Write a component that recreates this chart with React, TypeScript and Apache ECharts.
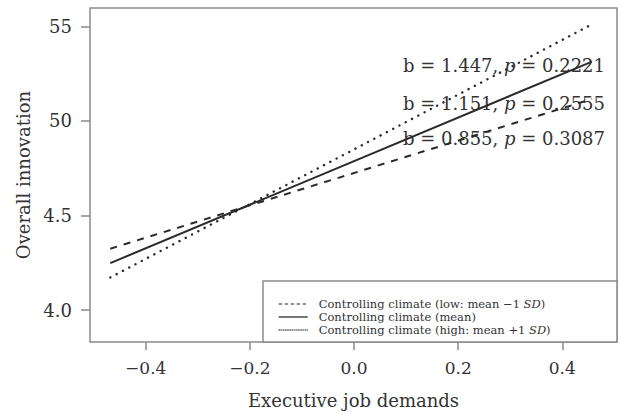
import React, { useEffect, useRef } from "react";
import * as echarts from "echarts";

const xRange = [-0.468, 0.457];
const lowValues = [4.325, 5.116];
const meanValues = [4.249, 5.314];
const highValues = [4.173, 5.511];
const seriesNames = [
  "Controlling climate (low: mean −1 SD)",
  "Controlling climate (mean)",
  "Controlling climate (high: mean +1 SD)",
];
const xTicks = [-0.4, -0.2, 0, 0.2, 0.4];
const yTicks = [4.0, 4.5, 5.0, 5.5];
const yTickLabels = ["4.0", "4.5", "50", "55"];
const slopeTexts = [
  ["b = 1.447, ", "p", " = 0.2221"],
  ["b = 1.151, ", "p", " = 0.2555"],
  ["b = 0.855, ", "p", " = 0.3087"],
];

const FONT = "'DejaVu Serif', 'Liberation Serif', serif";
const INK = "#333";
const FRAME = "#8a8a8a";

export default function App() {
  const ref = useRef<HTMLDivElement>(null);
  useEffect(() => {
    if (!ref.current) return;
    const chart = echarts.init(ref.current, null, { renderer: "svg" });
    const toPts = (vals: number[]) => xRange.map((x, i) => [x, vals[i]]);
    const lineCommon = { type: "line", symbol: "none", silent: true };
    const fmtLegend = (name: string) => {
      const idx = name.indexOf("SD");
      if (idx < 0) return "{n|" + name + "}";
      return "{n|" + name.slice(0, idx) + "}{i|SD}{n|" + name.slice(idx + 2) + "}";
    };
    const yLabelOf = (v: number) => {
      const k = yTicks.findIndex((t) => Math.abs(t - v) < 1e-6);
      return k >= 0 ? yTickLabels[k] : "";
    };
    const hidden = { opacity: 0, borderWidth: 0 };
    chart.setOption({
      animation: false,
      backgroundColor: "#fff",
      grid: {
        left: 90,
        right: 3,
        top: 8,
        bottom: 72,
        show: true,
        borderColor: FRAME,
        borderWidth: 1.5,
        backgroundColor: "transparent",
      },
      xAxis: {
        type: "value",
        min: -0.507,
        max: 0.505,
        name: "Executive job demands",
        nameLocation: "middle",
        nameGap: 49,
        nameTextStyle: { fontFamily: FONT, fontSize: 18, color: INK },
        axisLine: { show: false, onZero: false },
        splitLine: { show: false },
        axisTick: {
          show: true,
          length: 8,
          lineStyle: { color: FRAME, width: 1.5 },
          customValues: xTicks,
        },
        axisLabel: {
          customValues: xTicks,
          margin: 17,
          fontFamily: FONT,
          fontSize: 17,
          color: INK,
          formatter: (v: number) => (v < 0 ? "−" + Math.abs(v).toFixed(1) : v.toFixed(1)),
        },
      },
      yAxis: {
        type: "value",
        min: 3.832,
        max: 5.597,
        name: "Overall innovation",
        nameLocation: "middle",
        nameGap: 56,
        nameTextStyle: { fontFamily: FONT, fontSize: 18, color: INK },
        axisLine: { show: false, onZero: false },
        splitLine: { show: false },
        axisTick: {
          show: true,
          length: 9,
          lineStyle: { color: FRAME, width: 1.5 },
          customValues: yTicks,
        },
        axisLabel: {
          customValues: yTicks,
          margin: 18,
          fontFamily: FONT,
          fontSize: 18,
          color: INK,
          formatter: (v: number) => yLabelOf(v),
        },
      },
      legend: {
        orient: "vertical",
        left: 278,
        top: 298,
        itemWidth: 29,
        itemHeight: 10,
        itemGap: 1,
        padding: 0,
        selectedMode: false,
        z: 10,
        data: [
          { name: seriesNames[0], itemStyle: hidden, lineStyle: { type: [3.5, 2.5], width: 1.2 } },
          { name: seriesNames[1], itemStyle: hidden, lineStyle: { type: "solid", width: 1.3 } },
          { name: seriesNames[2], itemStyle: hidden, lineStyle: { type: [1, 1.2], width: 1 } },
        ],
        formatter: fmtLegend,
        textStyle: {
          fontFamily: FONT,
          fontSize: 11.5,
          color: INK,
          padding: [0, 0, 0, 6],
          rich: {
            n: { fontFamily: FONT, fontSize: 11.5, color: INK, lineHeight: 12 },
            i: { fontFamily: FONT, fontSize: 11.5, color: INK, fontStyle: "italic", lineHeight: 12 },
          },
        },
      },
      graphic: [
        {
          type: "rect",
          z: 1,
          shape: { x: 263, y: 281, width: 354, height: 61 },
          style: { fill: "#fff", stroke: FRAME, lineWidth: 1.5 },
        },
        ...slopeTexts.map((parts, k) => ({
          type: "text",
          z: 1,
          x: 605,
          y: [65, 103, 138][k],
          style: {
            text: "{n|" + parts[0] + "}{i|" + parts[1] + "}{n|" + parts[2] + "}",
            align: "right",
            verticalAlign: "middle",
            fill: INK,
            rich: {
              n: { fontFamily: FONT, fontSize: 18, fill: INK, color: INK },
              i: { fontFamily: FONT, fontSize: 18, fontStyle: "italic", fill: INK, color: INK },
            },
          },
        })),
      ],
      series: [
        {
          ...lineCommon,
          name: seriesNames[0],
          data: toPts(lowValues),
          z: 3,
          lineStyle: { color: "#2a2a2a", width: 2, type: [7, 7] },
          itemStyle: { color: "#2a2a2a" },
        },
        {
          ...lineCommon,
          name: seriesNames[1],
          data: toPts(meanValues),
          z: 3,
          lineStyle: { color: "#2a2a2a", width: 2, type: "solid" },
          itemStyle: { color: "#2a2a2a" },
        },
        {
          ...lineCommon,
          name: seriesNames[2],
          data: toPts(highValues),
          z: 3,
          lineStyle: { color: "#2a2a2a", width: 2.4, type: [0.1, 7], cap: "round" },
          itemStyle: { color: "#2a2a2a" },
        },
      ],
    });
    return () => chart.dispose();
  }, []);
  return (
    <div
      ref={ref}
      style={{ position: "fixed", left: 0, top: 0, width: 620, height: 414, background: "#fff" }}
    />
  );
}
